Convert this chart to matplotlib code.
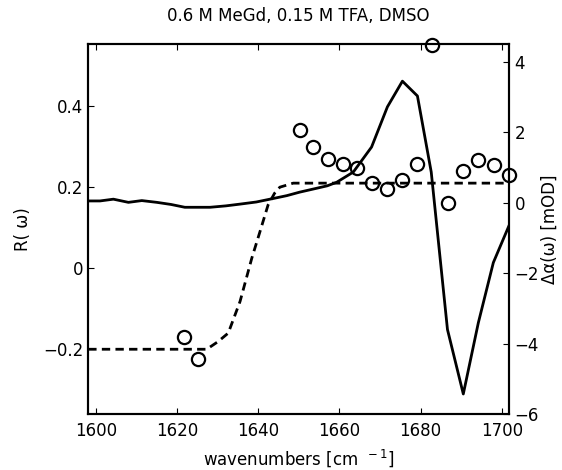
import numpy as np
import matplotlib
matplotlib.use("Agg")
import matplotlib.pyplot as plt

# R(omega) model (dashed, left axis)
model_x = [1598.1, 1627.3, 1630.1, 1632.6, 1635.5, 1638.4, 1640.4, 1642.4,
           1644.0, 1645.3, 1648.6, 1701.8]
model_r = [-0.2, -0.2, -0.181, -0.16, -0.082, 0.025, 0.09, 0.156,
           0.185, 0.2, 0.21, 0.21]

# R(omega) data points (circles, left axis)
data_x = [1621.7, 1625.2, 1650.2, 1653.5, 1657.2, 1660.8, 1664.4, 1668.1,
          1671.7, 1675.4, 1679.1, 1682.9, 1686.8, 1690.5, 1694.2, 1698.0, 1701.8]
data_r = [-0.171, -0.224, 0.341, 0.298, 0.269, 0.257, 0.247, 0.21,
          0.196, 0.218, 0.258, 0.55, 0.162, 0.24, 0.266, 0.255, 0.229]

# delta alpha (solid, right axis) in mOD
abs_x = [1598.1, 1601.0, 1604.3, 1608.0, 1611.3, 1615.0, 1618.5, 1621.9,
         1628.1, 1632.0, 1635.5, 1639.5, 1643.7, 1647.0, 1650.2, 1654.0,
         1657.0, 1659.3, 1663.4, 1667.9, 1671.8, 1675.5, 1679.2, 1682.6,
         1686.6, 1690.5, 1694.2, 1697.9, 1701.8]
abs_da = [0.05, 0.05, 0.1, 0.01, 0.06, 0.01, -0.05, -0.13,
          -0.13, -0.09, -0.04, 0.02, 0.12, 0.2, 0.3, 0.4,
          0.48, 0.58, 0.87, 1.58, 2.72, 3.45, 3.03, 0.87,
          -3.6, -5.43, -3.41, -1.7, -0.64]

xticks = [1600, 1620, 1640, 1660, 1680, 1700]
lticks = [-0.2, 0, 0.2, 0.4]
rticks = [-6, -4, -2, 0, 2, 4]

plt.rcParams['font.family'] = ['DejaVu Sans']
plt.rcParams['font.size'] = 12

fig = plt.figure(figsize=(5.62, 4.70), dpi=100)
ax = fig.add_axes([0.157, 0.119, 0.749, 0.787])
ax2 = ax.twinx()

ax.plot(model_x, model_r, color='black', lw=2, ls=(0, (3.0, 1.9)))
ax.plot(data_x, data_r, 'o', mfc='none', mec='black', ms=9.5, mew=1.6,
        clip_on=False, zorder=5)
ax2.plot(abs_x, abs_da, color='black', lw=2)

ax.set_xlim(1598.1, 1701.8)
ax.set_ylim(-0.36, 0.553)
ax2.set_ylim(-6, 4.5)

ax.set_xticks(xticks)
ax.set_yticks(lticks)
ax.set_yticklabels(['\u22120.2', '0', '0.2', '0.4'])
ax2.set_yticks(rticks)

ax.tick_params(direction='in', length=4, width=0.8, top=True, right=False)
ax.tick_params(axis='x', pad=6)
ax2.tick_params(direction='in', length=4, width=0.8, pad=4)
for a in (ax, ax2):
    for s in a.spines.values():
        s.set_linewidth(1.5)

ax.set_xlabel('wavenumbers [cm $^{\\,-1}$]', labelpad=5)
ax.set_ylabel('R( \u03c9)', labelpad=8)
ax2.set_ylabel('\u0394\u03b1(\u03c9) [mOD]', labelpad=1)
ax.set_title('0.6 M MeGd, 0.15 M TFA, DMSO', fontsize=12, pad=17)

fig.savefig('out.png', dpi=100)
